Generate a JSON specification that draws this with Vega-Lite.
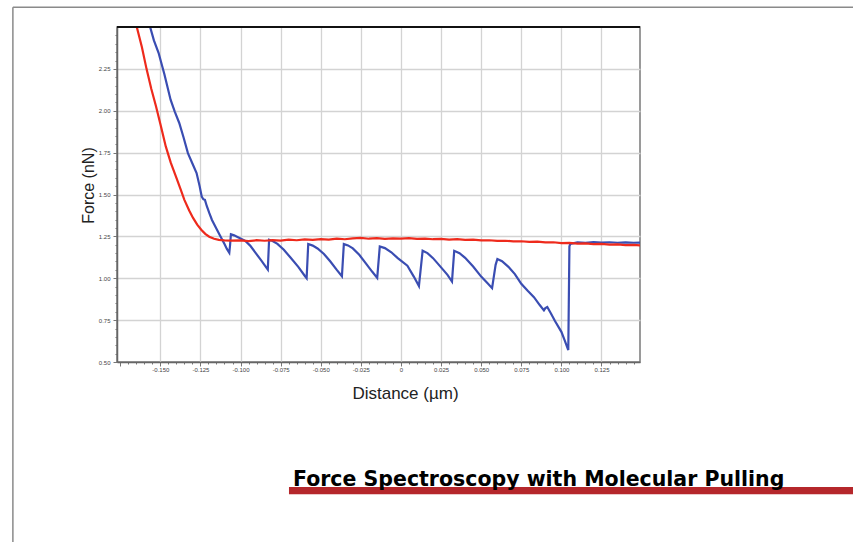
{
  "$schema": "https://vega.github.io/schema/vega-lite/v6.json",
  "width": 523,
  "height": 335,
  "autosize": {"type": "none"},
  "padding": {"left": 117, "top": 27, "right": 213, "bottom": 180},
  "background": "white",
  "config": {
    "view": {"stroke": "#7a7a7a", "strokeWidth": 1.5},
    "font": "Liberation Sans"
  },
  "datasets": {
    "curves": [
      {"series": "Retract", "distance": -0.1578, "force": 2.53},
      {"series": "Retract", "distance": -0.1565, "force": 2.505},
      {"series": "Retract", "distance": -0.1540, "force": 2.42},
      {"series": "Retract", "distance": -0.1511, "force": 2.346},
      {"series": "Retract", "distance": -0.1475, "force": 2.22},
      {"series": "Retract", "distance": -0.1436, "force": 2.066},
      {"series": "Retract", "distance": -0.1410, "force": 1.995},
      {"series": "Retract", "distance": -0.1382, "force": 1.927},
      {"series": "Retract", "distance": -0.1355, "force": 1.84},
      {"series": "Retract", "distance": -0.1328, "force": 1.747},
      {"series": "Retract", "distance": -0.1300, "force": 1.685},
      {"series": "Retract", "distance": -0.1274, "force": 1.628},
      {"series": "Retract", "distance": -0.1255, "force": 1.55},
      {"series": "Retract", "distance": -0.1242, "force": 1.488},
      {"series": "Retract", "distance": -0.1232, "force": 1.472},
      {"series": "Retract", "distance": -0.1222, "force": 1.468},
      {"series": "Retract", "distance": -0.1210, "force": 1.43},
      {"series": "Retract", "distance": -0.1195, "force": 1.39},
      {"series": "Retract", "distance": -0.1178, "force": 1.348},
      {"series": "Retract", "distance": -0.1150, "force": 1.295},
      {"series": "Retract", "distance": -0.1124, "force": 1.248},
      {"series": "Retract", "distance": -0.1100, "force": 1.205},
      {"series": "Retract", "distance": -0.1085, "force": 1.175},
      {"series": "Retract", "distance": -0.1070, "force": 1.152},
      {"series": "Retract", "distance": -0.1065, "force": 1.2},
      {"series": "Retract", "distance": -0.1060, "force": 1.263},
      {"series": "Retract", "distance": -0.1040, "force": 1.256},
      {"series": "Retract", "distance": -0.1016, "force": 1.245},
      {"series": "Retract", "distance": -0.0973, "force": 1.225},
      {"series": "Retract", "distance": -0.0940, "force": 1.195},
      {"series": "Retract", "distance": -0.0905, "force": 1.15},
      {"series": "Retract", "distance": -0.0870, "force": 1.105},
      {"series": "Retract", "distance": -0.0840, "force": 1.065},
      {"series": "Retract", "distance": -0.0830, "force": 1.052},
      {"series": "Retract", "distance": -0.0822, "force": 1.23},
      {"series": "Retract", "distance": -0.0800, "force": 1.222},
      {"series": "Retract", "distance": -0.0770, "force": 1.205},
      {"series": "Retract", "distance": -0.0730, "force": 1.17},
      {"series": "Retract", "distance": -0.0690, "force": 1.125},
      {"series": "Retract", "distance": -0.0640, "force": 1.068},
      {"series": "Retract", "distance": -0.0600, "force": 1.015},
      {"series": "Retract", "distance": -0.0588, "force": 1.0},
      {"series": "Retract", "distance": -0.0578, "force": 1.204},
      {"series": "Retract", "distance": -0.0550, "force": 1.195},
      {"series": "Retract", "distance": -0.0520, "force": 1.178},
      {"series": "Retract", "distance": -0.0480, "force": 1.145},
      {"series": "Retract", "distance": -0.0440, "force": 1.1},
      {"series": "Retract", "distance": -0.0400, "force": 1.05},
      {"series": "Retract", "distance": -0.0368, "force": 1.012},
      {"series": "Retract", "distance": -0.0356, "force": 1.204},
      {"series": "Retract", "distance": -0.0330, "force": 1.196},
      {"series": "Retract", "distance": -0.0300, "force": 1.178},
      {"series": "Retract", "distance": -0.0260, "force": 1.14},
      {"series": "Retract", "distance": -0.0220, "force": 1.09},
      {"series": "Retract", "distance": -0.0180, "force": 1.04},
      {"series": "Retract", "distance": -0.0148, "force": 1.002},
      {"series": "Retract", "distance": -0.0132, "force": 1.19},
      {"series": "Retract", "distance": -0.0100, "force": 1.18},
      {"series": "Retract", "distance": -0.0060, "force": 1.155},
      {"series": "Retract", "distance": -0.0020, "force": 1.12},
      {"series": "Retract", "distance": 0.0040, "force": 1.075},
      {"series": "Retract", "distance": 0.0080, "force": 1.01},
      {"series": "Retract", "distance": 0.0112, "force": 0.953},
      {"series": "Retract", "distance": 0.0135, "force": 1.164},
      {"series": "Retract", "distance": 0.0165, "force": 1.15},
      {"series": "Retract", "distance": 0.0200, "force": 1.12},
      {"series": "Retract", "distance": 0.0250, "force": 1.065},
      {"series": "Retract", "distance": 0.0290, "force": 1.02},
      {"series": "Retract", "distance": 0.0318, "force": 0.98},
      {"series": "Retract", "distance": 0.0332, "force": 1.164},
      {"series": "Retract", "distance": 0.0365, "force": 1.15},
      {"series": "Retract", "distance": 0.0400, "force": 1.122},
      {"series": "Retract", "distance": 0.0450, "force": 1.07},
      {"series": "Retract", "distance": 0.0500, "force": 1.01},
      {"series": "Retract", "distance": 0.0540, "force": 0.97},
      {"series": "Retract", "distance": 0.0568, "force": 0.941},
      {"series": "Retract", "distance": 0.0590, "force": 1.08},
      {"series": "Retract", "distance": 0.0601, "force": 1.115},
      {"series": "Retract", "distance": 0.0630, "force": 1.102},
      {"series": "Retract", "distance": 0.0670, "force": 1.068},
      {"series": "Retract", "distance": 0.0710, "force": 1.025},
      {"series": "Retract", "distance": 0.0750, "force": 0.967},
      {"series": "Retract", "distance": 0.0790, "force": 0.925},
      {"series": "Retract", "distance": 0.0829, "force": 0.887},
      {"series": "Retract", "distance": 0.0865, "force": 0.84},
      {"series": "Retract", "distance": 0.0891, "force": 0.808},
      {"series": "Retract", "distance": 0.0900, "force": 0.822},
      {"series": "Retract", "distance": 0.0912, "force": 0.828},
      {"series": "Retract", "distance": 0.0935, "force": 0.79},
      {"series": "Retract", "distance": 0.0960, "force": 0.745},
      {"series": "Retract", "distance": 0.1000, "force": 0.68},
      {"series": "Retract", "distance": 0.1020, "force": 0.63},
      {"series": "Retract", "distance": 0.1043, "force": 0.571},
      {"series": "Retract", "distance": 0.1050, "force": 1.19},
      {"series": "Retract", "distance": 0.1055, "force": 1.205},
      {"series": "Retract", "distance": 0.1100, "force": 1.214},
      {"series": "Retract", "distance": 0.1150, "force": 1.212},
      {"series": "Retract", "distance": 0.1200, "force": 1.216},
      {"series": "Retract", "distance": 0.1250, "force": 1.213},
      {"series": "Retract", "distance": 0.1300, "force": 1.215},
      {"series": "Retract", "distance": 0.1350, "force": 1.212},
      {"series": "Retract", "distance": 0.1400, "force": 1.214},
      {"series": "Retract", "distance": 0.1450, "force": 1.212},
      {"series": "Retract", "distance": 0.1510, "force": 1.213},
      {"series": "Extend", "distance": -0.1668, "force": 2.56},
      {"series": "Extend", "distance": -0.1648, "force": 2.505},
      {"series": "Extend", "distance": -0.1615, "force": 2.38},
      {"series": "Extend", "distance": -0.1586, "force": 2.25},
      {"series": "Extend", "distance": -0.1556, "force": 2.13},
      {"series": "Extend", "distance": -0.1527, "force": 2.027},
      {"series": "Extend", "distance": -0.1497, "force": 1.91},
      {"series": "Extend", "distance": -0.1466, "force": 1.787},
      {"series": "Extend", "distance": -0.1435, "force": 1.69},
      {"series": "Extend", "distance": -0.1403, "force": 1.608},
      {"series": "Extend", "distance": -0.1375, "force": 1.535},
      {"series": "Extend", "distance": -0.1350, "force": 1.468},
      {"series": "Extend", "distance": -0.1320, "force": 1.405},
      {"series": "Extend", "distance": -0.1296, "force": 1.36},
      {"series": "Extend", "distance": -0.1270, "force": 1.32},
      {"series": "Extend", "distance": -0.1245, "force": 1.29},
      {"series": "Extend", "distance": -0.1220, "force": 1.265},
      {"series": "Extend", "distance": -0.1195, "force": 1.248},
      {"series": "Extend", "distance": -0.1165, "force": 1.236},
      {"series": "Extend", "distance": -0.1135, "force": 1.229},
      {"series": "Extend", "distance": -0.1100, "force": 1.226},
      {"series": "Extend", "distance": -0.1060, "force": 1.225},
      {"series": "Extend", "distance": -0.1000, "force": 1.226},
      {"series": "Extend", "distance": -0.0950, "force": 1.222},
      {"series": "Extend", "distance": -0.0900, "force": 1.227},
      {"series": "Extend", "distance": -0.0850, "force": 1.224},
      {"series": "Extend", "distance": -0.0800, "force": 1.228},
      {"series": "Extend", "distance": -0.0750, "force": 1.225},
      {"series": "Extend", "distance": -0.0700, "force": 1.23},
      {"series": "Extend", "distance": -0.0650, "force": 1.227},
      {"series": "Extend", "distance": -0.0600, "force": 1.232},
      {"series": "Extend", "distance": -0.0550, "force": 1.229},
      {"series": "Extend", "distance": -0.0500, "force": 1.234},
      {"series": "Extend", "distance": -0.0450, "force": 1.231},
      {"series": "Extend", "distance": -0.0400, "force": 1.236},
      {"series": "Extend", "distance": -0.0350, "force": 1.233},
      {"series": "Extend", "distance": -0.0300, "force": 1.238},
      {"series": "Extend", "distance": -0.0250, "force": 1.241},
      {"series": "Extend", "distance": -0.0200, "force": 1.236},
      {"series": "Extend", "distance": -0.0150, "force": 1.239},
      {"series": "Extend", "distance": -0.0100, "force": 1.235},
      {"series": "Extend", "distance": -0.0050, "force": 1.238},
      {"series": "Extend", "distance": 0.0000, "force": 1.236},
      {"series": "Extend", "distance": 0.0050, "force": 1.239},
      {"series": "Extend", "distance": 0.0100, "force": 1.235},
      {"series": "Extend", "distance": 0.0150, "force": 1.237},
      {"series": "Extend", "distance": 0.0200, "force": 1.233},
      {"series": "Extend", "distance": 0.0250, "force": 1.235},
      {"series": "Extend", "distance": 0.0300, "force": 1.231},
      {"series": "Extend", "distance": 0.0350, "force": 1.233},
      {"series": "Extend", "distance": 0.0400, "force": 1.229},
      {"series": "Extend", "distance": 0.0450, "force": 1.23},
      {"series": "Extend", "distance": 0.0500, "force": 1.226},
      {"series": "Extend", "distance": 0.0550, "force": 1.227},
      {"series": "Extend", "distance": 0.0600, "force": 1.223},
      {"series": "Extend", "distance": 0.0650, "force": 1.224},
      {"series": "Extend", "distance": 0.0700, "force": 1.22},
      {"series": "Extend", "distance": 0.0750, "force": 1.221},
      {"series": "Extend", "distance": 0.0800, "force": 1.217},
      {"series": "Extend", "distance": 0.0850, "force": 1.219},
      {"series": "Extend", "distance": 0.0900, "force": 1.214},
      {"series": "Extend", "distance": 0.0950, "force": 1.215},
      {"series": "Extend", "distance": 0.1000, "force": 1.21},
      {"series": "Extend", "distance": 0.1050, "force": 1.211},
      {"series": "Extend", "distance": 0.1100, "force": 1.207},
      {"series": "Extend", "distance": 0.1150, "force": 1.208},
      {"series": "Extend", "distance": 0.1200, "force": 1.204},
      {"series": "Extend", "distance": 0.1250, "force": 1.205},
      {"series": "Extend", "distance": 0.1300, "force": 1.201},
      {"series": "Extend", "distance": 0.1350, "force": 1.202},
      {"series": "Extend", "distance": 0.1400, "force": 1.198},
      {"series": "Extend", "distance": 0.1450, "force": 1.199},
      {"series": "Extend", "distance": 0.1510, "force": 1.195}
    ]
  },
  "layer": [
    {
      "data": {"name": "curves"},
      "mark": {"type": "line", "strokeWidth": 2.2, "clip": true, "interpolate": "linear"},
      "encoding": {
        "x": {
          "field": "distance",
          "type": "quantitative",
          "scale": {"domain": [-0.177, 0.149], "nice": false, "zero": false},
          "axis": {
            "title": "Distance (µm)",
            "titleFont": "Liberation Sans",
            "titleFontSize": 17,
            "titleFontWeight": "normal",
            "titleColor": "#222222",
            "titleX": 288,
            "titleY": 31,
            "titleAlign": "center",
            "titleBaseline": "middle",
            "tickCount": 500,
            "values": [-0.175,-0.17,-0.165,-0.16,-0.155,-0.15,-0.145,-0.14,-0.135,-0.13,-0.125,-0.12,-0.115,-0.11,-0.105,-0.1,-0.095,-0.09,-0.085,-0.08,-0.075,-0.07,-0.065,-0.06,-0.055,-0.05,-0.045,-0.04,-0.035,-0.03,-0.025,-0.02,-0.015,-0.01,-0.005,0,0.005,0.01,0.015,0.02,0.025,0.03,0.035,0.04,0.045,0.05,0.055,0.06,0.065,0.07,0.075,0.08,0.085,0.09,0.095,0.1,0.105,0.11,0.115,0.12,0.125,0.13,0.135,0.14,0.145],
            "labelExpr": "(abs(datum.value*40 - round(datum.value*40)) < 0.01 && datum.value > -0.16) ? (abs(datum.value) < 0.0001 ? '0' : ((datum.value < 0 ? '-' : '') + format(abs(datum.value), '.3f'))) : ''",
            "labelFont": "Liberation Sans",
            "labelFontSize": 6,
            "labelColor": "#444444",
            "labelPadding": 0,
            "labelOverlap": false,
            "labelFlush": false,
            "grid": true,
            "gridColor": "#d3d3d3",
            "gridWidth": 1.3,
            "gridOpacity": {"condition": {"test": "abs(datum.value*40 - round(datum.value*40)) < 0.01 && datum.value > -0.16", "value": 1}, "value": 0},
            "tickColor": "#777777",
            "tickSize": {"condition": {"test": "abs(datum.value*40 - round(datum.value*40)) < 0.01", "value": 4}, "value": 2},
            "domainColor": "#666666",
            "domainWidth": 1.5
          }
        },
        "y": {
          "field": "force",
          "type": "quantitative",
          "scale": {"domain": [0.5, 2.5], "nice": false, "zero": false},
          "axis": {
            "title": "Force (nN)",
            "titleFont": "Liberation Sans",
            "titleFontSize": 16,
            "titleFontWeight": "normal",
            "titleColor": "#222222",
            "titleX": -29,
            "titleY": 158,
            "titleAngle": -90,
            "titleAlign": "center",
            "titleBaseline": "middle",
            "tickCount": 500,
            "values": [0.5,0.55,0.6,0.65,0.7,0.75,0.8,0.85,0.9,0.95,1,1.05,1.1,1.15,1.2,1.25,1.3,1.35,1.4,1.45,1.5,1.55,1.6,1.65,1.7,1.75,1.8,1.85,1.9,1.95,2,2.05,2.1,2.15,2.2,2.25,2.3,2.35,2.4,2.45],
            "labelExpr": "(abs(datum.value*4 - round(datum.value*4)) < 0.01 && datum.value < 2.4) ? format(datum.value, '.2f') : ''",
            "labelFont": "Liberation Sans",
            "labelFontSize": 6,
            "labelColor": "#444444",
            "labelPadding": 3,
            "labelOverlap": false,
            "labelFlush": false,
            "grid": true,
            "gridColor": "#d3d3d3",
            "gridWidth": 1.3,
            "gridOpacity": {"condition": {"test": "abs(datum.value*4 - round(datum.value*4)) < 0.01 && datum.value > 0.6", "value": 1}, "value": 0},
            "tickColor": "#777777",
            "tickSize": {"condition": {"test": "abs(datum.value*4 - round(datum.value*4)) < 0.01", "value": 4}, "value": 2},
            "domainColor": "#666666",
            "domainWidth": 1.5
          }
        },
        "color": {
          "field": "series",
          "type": "nominal",
          "scale": {"domain": ["Retract", "Extend"], "range": ["#3a4db2", "#ee2a1c"]},
          "legend": null
        },
        "order": {"field": "distance", "type": "quantitative"}
      }
    },
    {
      "data": {"values": [{}]},
      "mark": {"type": "rule", "color": "#111111", "strokeWidth": 2, "clip": false},
      "encoding": {
        "y": {"datum": 2.5, "type": "quantitative"},
        "x": {"datum": -0.177, "type": "quantitative"},
        "x2": {"datum": 0.149}
      }
    },
    {
      "data": {"values": [{}]},
      "mark": {"type": "rect", "color": "#b5272b", "clip": false},
      "encoding": {
        "x": {"datum": -0.0698, "type": "quantitative"},
        "x2": {"datum": 0.3},
        "y": {"datum": -0.247, "type": "quantitative"},
        "y2": {"datum": -0.289}
      }
    },
    {
      "data": {"values": [{}]},
      "mark": {"type": "text", "clip": false, "align": "left", "baseline": "alphabetic", "font": "DejaVu Sans", "fontSize": 20.5, "fontWeight": "bold", "color": "#000000"},
      "encoding": {
        "x": {"datum": -0.0673, "type": "quantitative"},
        "y": {"datum": -0.240, "type": "quantitative"},
        "text": {"value": "Force Spectroscopy with Molecular Pulling"}
      }
    },
    {
      "data": {"values": [{}]},
      "mark": {"type": "rule", "color": "#8a8a8a", "strokeWidth": 1.5, "clip": false},
      "encoding": {
        "x": {"datum": -0.2419, "type": "quantitative"},
        "y": {"datum": 2.6175, "type": "quantitative"},
        "y2": {"datum": -0.6}
      }
    },
    {
      "data": {"values": [{}]},
      "mark": {"type": "rule", "color": "#8a8a8a", "strokeWidth": 1.5, "clip": false},
      "encoding": {
        "y": {"datum": 2.6175, "type": "quantitative"},
        "x": {"datum": -0.2419, "type": "quantitative"},
        "x2": {"datum": 0.3}
      }
    }
  ]
}
